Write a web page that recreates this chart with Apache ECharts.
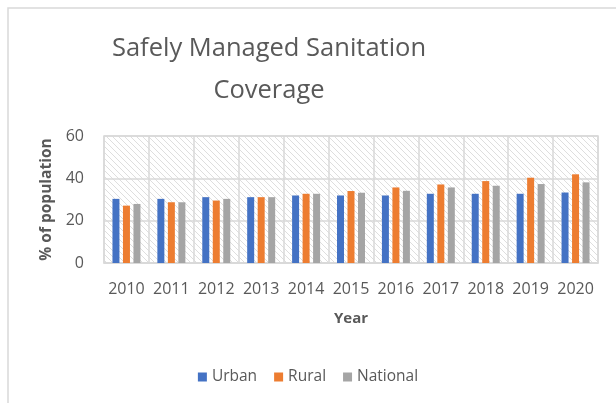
<!DOCTYPE html>
<html>
<head>
<meta charset="utf-8">
<script src="https://cdn.jsdelivr.net/npm/echarts@6/dist/echarts.min.js"></script>
<style>
  html, body { margin: 0; padding: 0; background: #fff; }
  #chart { width: 616px; height: 403px; }
</style>
</head>
<body>
<div id="chart"></div>
<script>
const years = ['2010', '2011', '2012', '2013', '2014', '2015', '2016', '2017', '2018', '2019', '2020']
const urban = [30.3, 30.3, 31.1, 31.1, 31.9, 31.9, 31.9, 32.7, 32.7, 32.7, 33.3]
const rural = [27.1, 28.7, 29.5, 31.1, 32.7, 34.0, 35.7, 37.1, 38.7, 40.3, 41.9]
const national = [27.9, 28.7, 30.3, 31.1, 32.7, 33.2, 34.1, 35.7, 36.5, 37.3, 38.1]
const yTicks = [0, 20, 40, 60]

// diagonal hatch for the plot background
const hatch = document.createElement('canvas')
hatch.width = 6
hatch.height = 6
const hc = hatch.getContext('2d')
hc.fillStyle = '#ffffff'
hc.fillRect(0, 0, 6, 6)
hc.strokeStyle = '#dedede'
hc.lineWidth = 1
hc.beginPath()
hc.moveTo(0, 0); hc.lineTo(6, 6)
hc.moveTo(-3, 3); hc.lineTo(3, 9)
hc.moveTo(3, -3); hc.lineTo(9, 3)
hc.stroke()

const font = 'Open Sans'
const grey = '#595959'

const chart = echarts.init(document.getElementById('chart'), null, { renderer: 'canvas' })

chart.setOption({
  animation: false,
  textStyle: { fontFamily: font },
  graphic: [{
    type: 'rect',
    shape: { x: 8, y: 8, width: 700, height: 500 },
    style: { fill: 'none', stroke: '#d9d9d9', lineWidth: 1.5 },
    silent: true,
    z: -10
  }],
  title: {
    text: 'Safely Managed Sanitation\nCoverage',
    left: 264,
    textAlign: 'center',
    top: 23,
    textStyle: {
      fontFamily: font,
      fontSize: 25.5,
      fontWeight: 'normal',
      color: grey,
      lineHeight: 42
    }
  },
  legend: {
    top: 364,
    left: 'center',
    icon: 'rect',
    itemWidth: 9,
    itemHeight: 9,
    itemGap: 17,
    textStyle: { fontFamily: font, fontSize: 15.5, color: grey },
    data: ['Urban', 'Rural', 'National']
  },
  grid: {
    left: 104,
    right: 18,
    top: 136,
    bottom: 140,
    show: true,
    backgroundColor: { image: hatch, repeat: 'repeat' },
    borderColor: '#d9d9d9',
    borderWidth: 1.5
  },
  xAxis: {
    type: 'category',
    data: years,
    name: 'Year',
    nameLocation: 'middle',
    nameGap: 48,
    nameTextStyle: { fontFamily: font, fontSize: 15, fontWeight: 'bold', color: grey },
    axisTick: { show: false },
    axisLine: { lineStyle: { color: '#d9d9d9', width: 1.5 } },
    axisLabel: { fontFamily: font, fontSize: 16, color: grey, margin: 18, interval: 0 },
    splitLine: { show: true, interval: 0, lineStyle: { color: '#d9d9d9', width: 1.5 } }
  },
  yAxis: {
    type: 'value',
    min: yTicks[0],
    max: yTicks[yTicks.length - 1],
    interval: 20,
    name: '% of population',
    nameLocation: 'middle',
    nameRotate: 90,
    nameGap: 48,
    nameTextStyle: { fontFamily: font, fontSize: 15.5, fontWeight: 'bold', color: grey },
    axisLine: { show: false },
    axisTick: { show: false },
    axisLabel: { fontFamily: font, fontSize: 16, color: grey, margin: 20 },
    splitLine: { lineStyle: { color: '#d9d9d9', width: 1.5 } }
  },
  series: [
    { name: 'Urban', type: 'bar', data: urban, barWidth: 7, barGap: '50%', itemStyle: { color: '#4472C4' } },
    { name: 'Rural', type: 'bar', data: rural, barWidth: 7, barGap: '50%', itemStyle: { color: '#ED7D31' } },
    { name: 'National', type: 'bar', data: national, barWidth: 7, barGap: '50%', itemStyle: { color: '#A5A5A5' } }
  ]
})
</script>
</body>
</html>
